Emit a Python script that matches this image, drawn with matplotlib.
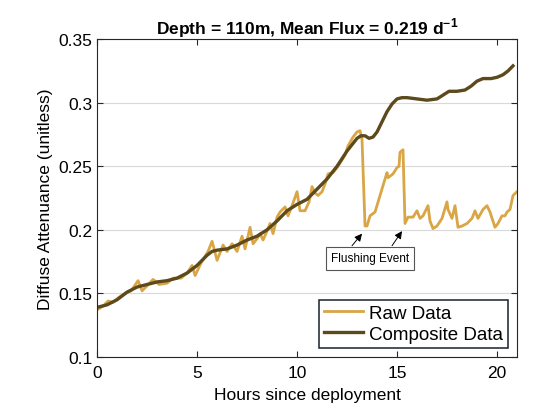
"""Diffuse attenuation at 110 m: raw vs composite series, with flushing events marked."""
import matplotlib
matplotlib.use('Agg')
import matplotlib.pyplot as plt

plt.rcParams['font.family'] = ['Liberation Sans', 'DejaVu Sans']
plt.rcParams['mathtext.fontset'] = 'custom'
plt.rcParams['mathtext.rm'] = 'Liberation Sans'
plt.rcParams['mathtext.bf'] = 'Liberation Sans:bold'

# raw sensor trace (hours, attenuation)
RAW_HOURS = [0, 0.3, 0.55, 0.8, 1.1, 1.4, 1.7, 2.05, 2.25, 2.5,
             2.8, 3.1, 3.5, 3.8, 4.2, 4.5, 4.75, 4.9, 5.2, 5.55,
             5.75, 6.0, 6.3, 6.5, 6.75, 7.0, 7.25, 7.4, 7.65, 7.8,
             8.0, 8.15, 8.3, 8.5, 8.65, 8.8, 9.0, 9.15, 9.4, 9.55,
             9.75, 10.0, 10.15, 10.4, 10.6, 10.75, 10.9, 11.05, 11.25, 11.4,
             11.55, 11.8, 12.05, 12.25, 12.4, 12.55, 12.8, 13.0, 13.15, 13.25,
             13.4, 13.5, 13.65, 13.9, 14.15, 14.4, 14.5, 14.55, 14.8, 15.0,
             15.1, 15.15, 15.3, 15.4, 15.55, 15.8, 16.0, 16.15, 16.3, 16.55,
             16.65, 16.8, 17.0, 17.25, 17.5, 17.55, 17.75, 17.9, 18.05, 18.25,
             18.5, 18.75, 18.9, 19.05, 19.3, 19.5, 19.65, 19.9, 20.05, 20.25,
             20.4, 20.5, 20.65, 20.8, 21.0]
RAW_VALUES = [0.137, 0.140, 0.144, 0.143, 0.147, 0.150, 0.152, 0.160, 0.152, 0.156,
              0.161, 0.157, 0.158, 0.162, 0.162, 0.166, 0.172, 0.164, 0.174, 0.183,
              0.191, 0.176, 0.188, 0.183, 0.189, 0.183, 0.195, 0.185, 0.202, 0.189,
              0.193, 0.197, 0.192, 0.199, 0.205, 0.197, 0.210, 0.214, 0.218, 0.211,
              0.219, 0.230, 0.215, 0.215, 0.222, 0.234, 0.229, 0.227, 0.230, 0.236,
              0.244, 0.245, 0.250, 0.255, 0.259, 0.266, 0.273, 0.277, 0.278, 0.271,
              0.203, 0.203, 0.211, 0.214, 0.227, 0.240, 0.245, 0.241, 0.244, 0.249,
              0.250, 0.261, 0.263, 0.205, 0.210, 0.210, 0.215, 0.209, 0.211, 0.219,
              0.207, 0.201, 0.203, 0.209, 0.222, 0.216, 0.209, 0.219, 0.202, 0.203,
              0.205, 0.209, 0.215, 0.209, 0.216, 0.219, 0.214, 0.202, 0.205, 0.211,
              0.211, 0.214, 0.216, 0.227, 0.230]

# composite (flushing-corrected) series
COMP_HOURS = [0, 0.5, 1, 1.5, 2, 2.5, 3, 3.5, 4, 4.5,
              5, 5.25, 5.5, 5.75, 6, 6.5, 7, 7.5, 8, 8.5,
              9, 9.5, 10, 10.5, 11, 11.5, 12, 12.5, 12.8, 13.0,
              13.2, 13.4, 13.6, 13.8, 14.0, 14.25, 14.5, 14.75, 15.0, 15.25,
              15.5, 16.0, 16.5, 17.0, 17.3, 17.6, 18.0, 18.4, 18.7, 19.0,
              19.3, 19.7, 20.0, 20.3, 20.55, 20.8]
COMP_VALUES = [0.139, 0.141, 0.145, 0.151, 0.155, 0.157, 0.159, 0.160, 0.162, 0.166,
               0.172, 0.176, 0.180, 0.183, 0.184, 0.185, 0.188, 0.192, 0.195, 0.200,
               0.207, 0.215, 0.220, 0.224, 0.232, 0.240, 0.250, 0.262, 0.268, 0.272,
               0.274, 0.274, 0.272, 0.273, 0.277, 0.285, 0.293, 0.299, 0.303, 0.304,
               0.304, 0.303, 0.302, 0.303, 0.306, 0.309, 0.309, 0.310, 0.313, 0.317,
               0.319, 0.319, 0.320, 0.322, 0.325, 0.329]

# flushing events (hour, attenuation at the drop)
FLUSH_HOURS = [13.25, 15.25]
FLUSH_VALUES = [0.197, 0.199]

RAW_COLOR = '#D9A545'
COMP_COLOR = '#5C4A1D'

fig = plt.figure(figsize=(5.58, 4.10), dpi=100)
ax = fig.add_axes([0.174, 0.127, 0.7525, 0.775])

ax.plot(RAW_HOURS, RAW_VALUES, color=RAW_COLOR, lw=2.0, label='Raw Data')
ax.plot(COMP_HOURS, COMP_VALUES, color=COMP_COLOR, lw=2.4, label='Composite Data')

ax.set_xlim(0, 21)
ax.set_ylim(0.1, 0.35)
ax.set_xticks([0, 5, 10, 15, 20])
ax.set_yticks([0.1, 0.15, 0.2, 0.25, 0.3, 0.35])
ax.set_yticklabels(['0.1', '0.15', '0.2', '0.25', '0.3', '0.35'])
ax.yaxis.grid(True, color='#d9d9d9', lw=0.8)
ax.set_axisbelow(True)
ax.tick_params(direction='in', top=True, right=True, labelsize=12.5, length=4,
               color='#262626')
ax.tick_params(axis='x', pad=6)
for s in ax.spines.values():
    s.set_color('#262626')
    s.set_linewidth(0.8)

ax.set_xlabel('Hours since deployment', fontsize=12.5, labelpad=5)
ax.set_ylabel('Diffuse Attenuance (unitless)', fontsize=12.5, labelpad=4)
ax.set_title(r'Depth = 110m, Mean Flux = 0.219 d$^{\mathbf{-1}}$',
             fontsize=12.5, fontweight='bold', pad=4)

# "Flushing Event" box with two arrows
ax.text(13.65, 0.1775, 'Flushing Event', fontsize=8.5, ha='center', va='center',
        bbox=dict(boxstyle='square,pad=0.45', fc='white', ec='#555555', lw=0.8))
for hx, hv, tx in zip(FLUSH_HOURS, FLUSH_VALUES, [12.75, 14.75]):
    ax.annotate('', xy=(hx, hv), xytext=(tx, 0.1875),
                arrowprops=dict(arrowstyle='-|>', color='k', lw=0.7,
                                mutation_scale=11, shrinkA=0, shrinkB=0))

leg = ax.legend(loc='lower right', fontsize=13.5, handlelength=2.1,
                handletextpad=0.3, borderpad=0.25, labelspacing=0.2,
                fancybox=False, framealpha=1, borderaxespad=0.5)
leg.get_frame().set_edgecolor('#1a1f2e')
leg.get_frame().set_linewidth(1.1)

fig.savefig('out.png', dpi=100)
